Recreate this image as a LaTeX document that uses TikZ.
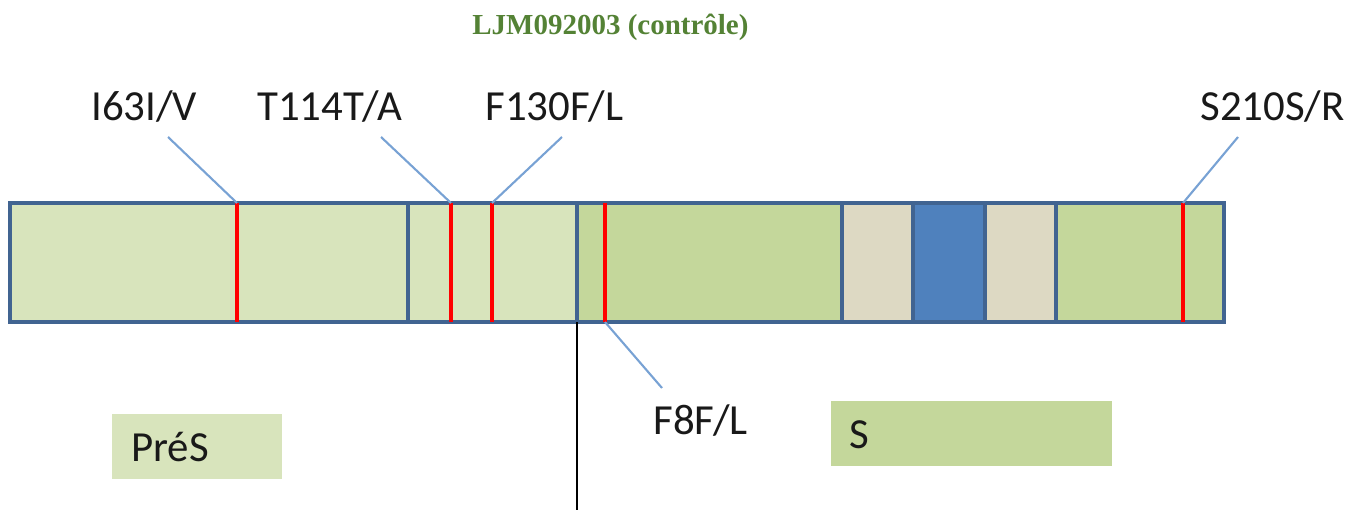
\documentclass[tikz,border=0pt]{standalone}
\usepackage{fontspec}
\setmainfont{Carlito}
\newfontfamily\titlefont{Liberation Serif}
\usetikzlibrary{positioning}
\definecolor{presgreen}{RGB}{216,228,188}
\definecolor{sgreen}{RGB}{196,215,155}
\definecolor{beige}{RGB}{221,217,195}
\definecolor{domblue}{RGB}{79,129,189}
\definecolor{barblue}{RGB}{65,100,145}
\definecolor{leaderblue}{RGB}{120,162,212}
\definecolor{titlegreen}{RGB}{84,130,53}

\begin{document}
\begin{tikzpicture}[
    x=0.02cm, y=-0.02cm,
    segment/.style={draw=barblue, line width=2.2pt},
    site/.style={draw=red, line width=1.9pt},
    leader/.style={draw=leaderblue, line width=1.2pt},
    mutlabel/.style={anchor=base west, inner sep=0pt, font=\fontsize{24.4}{28}\selectfont, text=black!90}
]
    \useasboundingbox (0,0) rectangle (1368,510);

    % Title
    \node[anchor=base west, inner sep=0pt, text=titlegreen, font=\titlefont\bfseries\fontsize{16.5}{20}\selectfont] (title) at (472,35) {LJM092003 (contrôle)};

    % Gene bar
    \path[segment, fill=presgreen] (10,203) rectangle (408,322);
    \path[segment, fill=presgreen] (408,203) rectangle (577,322);
    \path[segment, fill=sgreen] (577,203) rectangle (842,322);
    \path[segment, fill=beige] (842,203) rectangle (913,322);
    \path[segment, fill=domblue] (913,203) rectangle (985,322);
    \path[segment, fill=beige] (985,203) rectangle (1056,322);
    \path[segment, fill=sgreen] (1056,203) rectangle (1224,322);

    % Mutation sites
    \foreach \pos in {237, 451, 492, 605, 1183}
        \draw[site] (\pos,203) -- (\pos,322);
    \coordinate (m63) at (237,203);
    \coordinate (m114) at (451,203);
    \coordinate (m130) at (492,203);
    \coordinate (m210) at (1183,203);
    \coordinate (m8) at (605,322);

    % PreS/S boundary
    \coordinate (cuttop) at (577,322);
    \coordinate (cutend) at (577,510);
    \draw[black, line width=1.4pt] (cuttop) -- (cutend);

    % Labels
    \node[mutlabel] (l63) at (91,120) {I63I/V};
    \node[mutlabel] (l114) at (257,120) {T114T/A};
    \node[mutlabel] (l130) at (485,120) {F130F/L};
    \node[mutlabel] (l210) at (1200,120) {S210S/R};
    \node[mutlabel] (l8) at (653,434) {F8F/L};

    % Leader ends
    \coordinate (e63) at (168,137);
    \coordinate (e114) at (381,137);
    \coordinate (e130) at (562,137);
    \coordinate (e210) at (1238,137);
    \coordinate (e8) at (662,388);

    % Leaders
    \draw[leader] (e63) -- (m63);
    \draw[leader] (e114) -- (m114);
    \draw[leader] (e130) -- (m130);
    \draw[leader] (e210) -- (m210);
    \draw[leader] (m8) -- (e8);

    % Legend
    \fill[presgreen] (112,414) rectangle (282,479);
    \fill[sgreen] (831,401) rectangle (1112,466);
    \node[mutlabel] (pres) at (131,461) {PréS};
    \node[mutlabel] (s) at (849,448) {S};
\end{tikzpicture}
\end{document}
